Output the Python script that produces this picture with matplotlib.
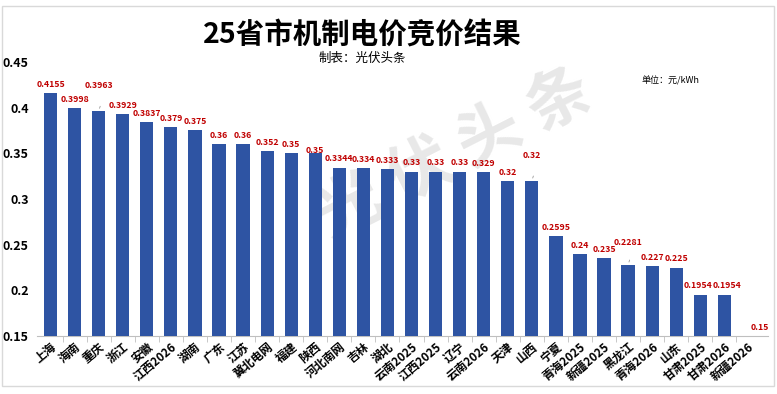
import numpy as np
import matplotlib.pyplot as plt
from matplotlib.patches import Rectangle

plt.rcParams['font.family'] = ['Noto Sans CJK SC', 'DejaVu Sans']

# data (元/kWh)
regions = ['上海', '海南', '重庆', '浙江', '安徽', '江西2026', '湖南', '广东', '江苏', '冀北电网',
           '福建', '陕西', '河北南网', '吉林', '湖北', '云南2025', '江西2025', '辽宁', '云南2026', '天津',
           '山西', '宁夏', '青海2025', '新疆2025', '黑龙江', '青海2026', '山东', '甘肃2025', '甘肃2026', '新疆2026']
prices = [0.4155, 0.3998, 0.3963, 0.3929, 0.3837, 0.379, 0.375, 0.36, 0.36, 0.352,
          0.35, 0.35, 0.3344, 0.334, 0.333, 0.33, 0.33, 0.33, 0.329, 0.32,
          0.32, 0.2595, 0.24, 0.235, 0.2281, 0.227, 0.225, 0.1954, 0.1954, 0.15]
label_text = ['0.4155', '0.3998', '0.3963', '0.3929', '0.3837', '0.379', '0.375', '0.36', '0.36', '0.352',
              '0.35', '0.35', '0.3344', '0.334', '0.333', '0.33', '0.33', '0.33', '0.329', '0.32',
              '0.32', '0.2595', '0.24', '0.235', '0.2281', '0.227', '0.225', '0.1954', '0.1954', '0.15']

# label nudges (points) for the few labels that were moved in the original
nudge = {2: (0, 12), 11: (0, -4), 20: (0, 12), 24: (0, 10), 27: (-2, 0), 28: (2, 0), 29: (8, 0)}

fig = plt.figure(figsize=(7.77, 3.94), dpi=100)
fig.patches.append(Rectangle((0.002, 0.02), 0.994, 0.965, transform=fig.transFigure,
                             fill=False, edgecolor='#d9d9d9', linewidth=1))
ax = fig.add_axes([0.048, 0.147, 0.94, 0.696])

# watermark, behind the bars
ax.text(0.585, 0.61, '光 伏 头 条', transform=fig.transFigure, fontsize=46, color='#e8e8e8',
        rotation=27, ha='center', va='center', fontweight='bold', zorder=1)

x = np.arange(len(regions))
ax.bar(x, np.array(prices) - 0.15, bottom=0.15, width=0.55, color='#2e54a3', zorder=3)

for i, (p, t) in enumerate(zip(prices, label_text)):
    dx, dy = nudge.get(i, (0, 0))
    ax.annotate(t, (i, p), xytext=(dx, 3 + dy), textcoords='offset points',
                ha='center', va='bottom', fontsize=6.3, color='#c00000', fontweight='bold', zorder=4)
    if dy >= 10:
        ax.annotate('', (i, p), xytext=(i + 0.1, p + 0.008),
                    arrowprops=dict(arrowstyle='-', color='#999999', lw=0.6))

ax.set_ylim(0.15, 0.45)
ax.set_yticks([0.15, 0.2, 0.25, 0.3, 0.35, 0.4, 0.45])
ax.set_yticklabels(['0.15', '0.2', '0.25', '0.3', '0.35', '0.4', '0.45'], fontsize=9, fontweight='bold')
ax.set_xlim(-0.55, len(regions) - 0.2)
ax.set_xticks(x)
ax.set_xticklabels(regions, rotation=40, ha='right', rotation_mode='anchor', fontsize=8.5, fontweight='bold')
ax.tick_params(axis='x', length=0, pad=3)
ax.tick_params(axis='y', length=0, pad=6)
ax.set_xticks(x[:-1] + 0.5, minor=True)
ax.tick_params(axis='x', which='minor', length=4, color='#bfbfbf')
for s in ['top', 'right', 'left']:
    ax.spines[s].set_visible(False)
ax.spines['bottom'].set_color('#bfbfbf')

fig.text(0.466, 0.91, '25省市机制电价竞价结果', ha='center', va='center', fontsize=20.5, fontweight='bold')
fig.text(0.466, 0.852, '制表：光伏头条', ha='center', va='center', fontsize=9)
fig.text(0.825, 0.795, '单位：元/kWh', ha='left', va='center', fontsize=6.5)

fig.savefig('out.png', dpi=100)
